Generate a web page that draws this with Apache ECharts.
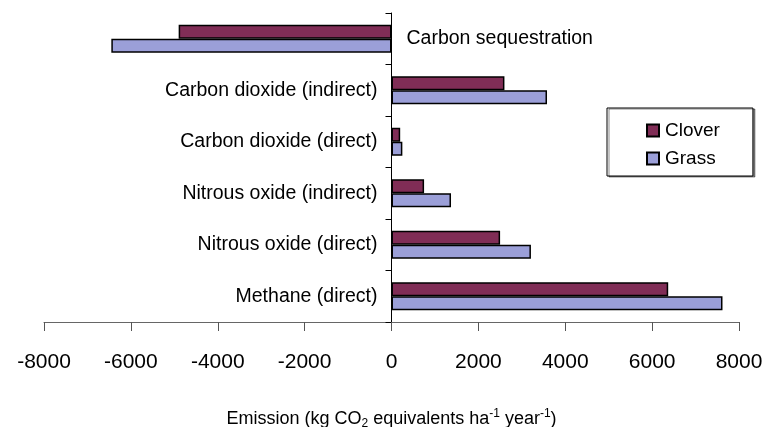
<!DOCTYPE html>
<html>
<head>
<meta charset="utf-8">
<script src="https://cdn.jsdelivr.net/npm/echarts@6/dist/echarts.min.js"></script>
<style>
html,body{margin:0;padding:0;background:#fff;}
#chart{width:767px;height:427px;}
</style>
</head>
<body>
<div id="chart"></div>
<script>
var categories = ['Carbon sequestration', 'Carbon dioxide (indirect)', 'Carbon dioxide (direct)', 'Nitrous oxide (indirect)', 'Nitrous oxide (direct)', 'Methane (direct)'];
var rightSideLabels = ['Carbon sequestration'];
var clover = [-4900, 2600, 200, 750, 2500, 6370];
var grass = [-6450, 3580, 250, 1370, 3210, 7620];
var seriesNames = ['Clover', 'Grass'];
var xTicks = { min: -8000, max: 8000, interval: 2000 };
var axisTitle = 'Emission (kg CO{sub|2} equivalents ha{sup|-1} year{sup|-1})';

var FONT = '"Liberation Sans", Arial, Helvetica, sans-serif';
var GRID_LEFT = 44;
var chart = echarts.init(document.getElementById('chart'), null, { renderer: 'canvas' });

function buildOption(yOffset) {
  return {
    animation: false,
    backgroundColor: '#fff',
    textStyle: { fontFamily: FONT, color: '#000' },
    grid: { left: GRID_LEFT, right: 28, top: 13, bottom: 105, containLabel: false, outerBoundsMode: 'none' },
    legend: {
      orient: 'vertical',
      left: 607,
      top: 108,
      padding: [13, 33, 8, 39],
      itemGap: 9,
      itemWidth: 12,
      itemHeight: 12,
      icon: 'rect',
      backgroundColor: '#fff',
      borderColor: '#000',
      borderWidth: 1,
      shadowColor: 'rgba(0,0,0,0.45)',
      shadowOffsetX: 2,
      shadowOffsetY: 1,
      shadowBlur: 0,
      textStyle: { fontFamily: FONT, fontSize: 19, color: '#000', padding: [0, 0, 0, 1] },
      data: seriesNames
    },
    xAxis: {
      type: 'value',
      min: xTicks.min,
      max: xTicks.max,
      interval: xTicks.interval,
      splitLine: { show: false },
      axisLine: { show: true, onZero: false, lineStyle: { color: '#666', width: 1 } },
      axisTick: { show: true, length: 9, lineStyle: { color: '#555', width: 1 } },
      axisLabel: { fontFamily: FONT, fontSize: 21, color: '#000', margin: 30,
        formatter: function (v) { return String(v); } },
      name: axisTitle,
      nameLocation: 'middle',
      nameGap: 86,
      nameTextStyle: {
        fontFamily: FONT, fontSize: 18, color: '#000', lineHeight: 22,
        rich: {
          sub: { fontFamily: FONT, fontSize: 12, color: '#000', verticalAlign: 'bottom', lineHeight: 22, padding: [6, 0, 0, 0] },
          sup: { fontFamily: FONT, fontSize: 12, color: '#000', verticalAlign: 'top', lineHeight: 22, padding: [0, 0, 6, 0] }
        }
      }
    },
    yAxis: [{
      type: 'category',
      inverse: true,
      data: categories,
      position: 'left',
      offset: yOffset,
      axisLine: { show: true, onZero: false, lineStyle: { color: '#000', width: 1 } },
      axisTick: { show: true, length: 6, lineStyle: { color: '#000', width: 1 } },
      axisLabel: {
        fontFamily: FONT, fontSize: 19.5, color: '#000', margin: 14,
        formatter: function (v) { return rightSideLabels.indexOf(v) >= 0 ? '' : v; }
      },
      splitLine: { show: false }
    }, {
      type: 'category',
      inverse: true,
      data: categories,
      position: 'left',
      offset: yOffset,
      axisLine: { show: false, onZero: false },
      axisTick: { show: false },
      axisLabel: {
        inside: true,
        fontFamily: FONT, fontSize: 19.5, color: '#000', margin: 15,
        formatter: function (v) { return rightSideLabels.indexOf(v) >= 0 ? v : ''; }
      },
      splitLine: { show: false }
    }],
    series: [{
      name: seriesNames[0],
      type: 'bar',
      yAxisIndex: 0,
      data: clover,
      barWidth: 14,
      barGap: '0%',
      itemStyle: { color: '#802d56', borderColor: '#000', borderWidth: 1.5 }
    }, {
      name: seriesNames[1],
      type: 'bar',
      yAxisIndex: 0,
      data: grass,
      barWidth: 14,
      barGap: '0%',
      itemStyle: { color: '#9b9fd8', borderColor: '#000', borderWidth: 1.5 }
    }]
  };
}

chart.setOption(buildOption(0));
var zeroX = chart.convertToPixel({ xAxisIndex: 0 }, 0);
var leftX = chart.convertToPixel({ xAxisIndex: 0 }, xTicks.min);
chart.setOption(buildOption(-(zeroX - leftX)));
</script>
</body>
</html>
